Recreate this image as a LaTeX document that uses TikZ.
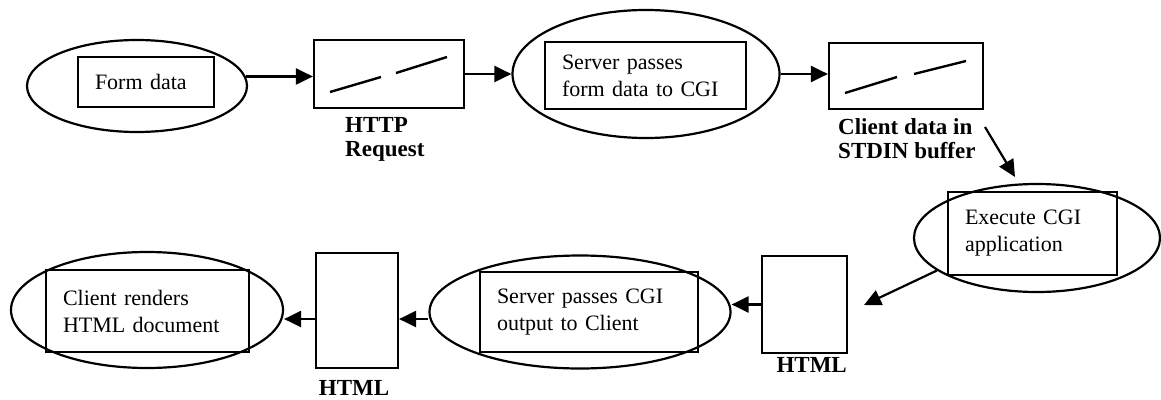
\documentclass[tikz,border=0pt]{standalone}
\usepackage{fontspec}
\setmainfont{Liberation Serif}
\usetikzlibrary{shapes.geometric,arrows.meta,calc}
\begin{document}
\begin{tikzpicture}[x=1pt,y=-1pt,
  stage/.style={draw, ellipse, line width=2.2pt, inner sep=0pt},
  card/.style={draw, rectangle, line width=2.2pt, inner xsep=17pt, inner ysep=0pt,
    align=left, font=\fontsize{22}{27}\selectfont},
  packet/.style={draw, rectangle, line width=2.2pt},
  tag/.style={inner sep=0pt, align=left, anchor=north west,
    font=\bfseries\fontsize{23}{24}\selectfont},
  flow/.style={line width=2.2pt, -{Triangle[length=17pt,width=16pt]}},
  slash/.style={line width=2.4pt}]
\useasboundingbox (0,0) rectangle (1161,399);

% ---- top row: browser to server ----
\node[stage, minimum width=220pt, minimum height=92pt] (e1) at (137,86) {};
\node[card, minimum width=136pt, minimum height=50pt, text width=102pt] (r1) at (146,82) {Form data};

\node[packet, minimum width=150pt, minimum height=68pt] (http) at (389,74) {};
\draw[slash] ($(http.center)+(-59,18)$) -- ($(http.center)+(-8,3)$);
\draw[slash] ($(http.center)+(7,-1)$) -- ($(http.center)+(58,-17)$);
\node[tag] (httplbl) at (345,117) {HTTP\\Request};

\node[stage, minimum width=267pt, minimum height=128pt] (e2) at (646,74) {};
\node[card, minimum width=201pt, minimum height=67pt, text width=167pt] (r2) at (645.5,75.5)
  {Server passes\\form data to CGI};

\node[packet, minimum width=154pt, minimum height=66pt] (stdin) at (906,76) {};
\draw[slash] ($(stdin.center)+(-61,17)$) -- ($(stdin.center)+(-9,1)$);
\draw[slash] ($(stdin.center)+(8,-2)$) -- ($(stdin.center)+(60,-15)$);
\node[tag] (stdinlbl) at (838,118) {Client data in\\STDIN buffer};

% ---- right: CGI program ----
\node[stage, minimum width=246pt, minimum height=108pt] (e3) at (1037,238) {};
\node[card, minimum width=169pt, minimum height=83pt, text width=135pt] (r3) at (1032.5,233.5)
  {Execute CGI\\application};

% ---- bottom row: server back to browser ----
\node[packet, minimum width=85pt, minimum height=97pt] (html2) at (804.5,304.5) {};
\node[tag, anchor=north east] (html2lbl) at (847,357) {HTML};

\node[stage, minimum width=301pt, minimum height=113pt] (e4) at (580,312) {};
\node[card, minimum width=218pt, minimum height=80pt, text width=184pt] (r4) at (589,312)
  {Server passes CGI\\output to Client};

\node[packet, minimum width=82pt, minimum height=115pt] (html1) at (357,310.5) {};
\node[tag, anchor=north] (html1lbl) at (354,380) {HTML};

\node[stage, minimum width=272pt, minimum height=116pt] (e5) at (147,310) {};
\node[card, minimum width=203pt, minimum height=82pt, text width=169pt] (r5) at (147.5,311)
  {Client renders\\HTML document};

% ---- connectors ----
\coordinate (c1) at (985,127);
\coordinate (tip1) at (1015,177);
\coordinate (tip2) at (864,305);
\coordinate (out4) at ($(e4.west)+(0,7)$);
\coordinate (out1) at ($(html1.west)+(0,8.5)$);
\draw[flow] (e1.5) -- (e1.5 -| http.west);
\draw[flow] (http.east) -- (http.east -| e2.west);
\draw[flow] (e2.east) -- (e2.east -| stdin.west);
\draw[flow] (c1) -- (tip1);
\draw[flow] (e3.198) -- (tip2);
\draw[flow] (html2.west) -- (html2.west -| e4.east);
\draw[flow] (out4) -- (out4 -| html1.east);
\draw[flow] (out1) -- (out1 -| e5.east);
\end{tikzpicture}
\end{document}
